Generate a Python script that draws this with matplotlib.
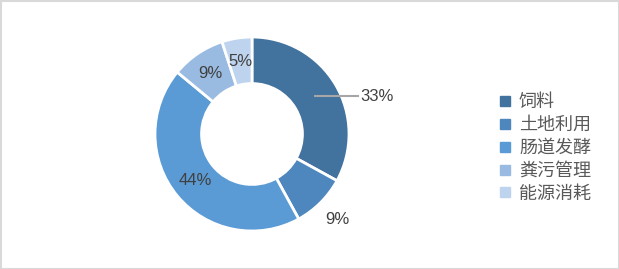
import matplotlib.pyplot as plt
import numpy as np
from matplotlib.patches import Rectangle
from matplotlib.lines import Line2D

plt.rcParams['font.family'] = ['Noto Sans CJK SC', 'DejaVu Sans']

# data
categories = ['饲料', '土地利用', '肠道发酵', '粪污管理', '能源消耗']
values = [33, 9, 44, 9, 5]
colors = ['#42729E', '#4D87BE', '#5B9BD5', '#9ABBE1', '#BED4EE']

fig = plt.figure(figsize=(6.19, 2.69), dpi=100)
# pie centre ~ (252, 134) px, outer radius ~97 px
ax = fig.add_axes([(252 - 97) / 619, (269 - 134 - 97) / 269, 194 / 619, 194 / 269])

wedges, _ = ax.pie(values, colors=colors, startangle=90, counterclock=False,
                   radius=1.0, wedgeprops=dict(width=0.48, edgecolor='white', linewidth=2))
ax.set_xlim(-1, 1)
ax.set_ylim(-1, 1)
ax.set_aspect('equal')
ax.axis('off')

pct_font = dict(family=['Liberation Sans', 'DejaVu Sans'], fontsize=12, color='#404040')
mid_r = 0.76
for i, (w, v) in enumerate(zip(wedges, values)):
    ang = np.deg2rad((w.theta1 + w.theta2) / 2)
    x, y = mid_r * np.cos(ang), mid_r * np.sin(ang)
    txt = f'{v}%'
    if i == 0:
        # moved label with leader line
        ax.plot([x, 1.09], [y, y], color='#A6A6A6', lw=1.5, clip_on=False)
        ax.text(1.12, y, txt, ha='left', va='center', **pct_font)
    elif i == 1:
        ax.text(1.25 * np.cos(ang), 1.25 * np.sin(ang), txt, ha='center', va='center', **pct_font)
    else:
        ax.text(x, y, txt, ha='center', va='center', **pct_font)

handles = [Line2D([], [], marker='s', linestyle='none', markersize=6.5,
                  markerfacecolor=c, markeredgecolor=c) for c in colors]
fig.legend(handles, categories, loc='center left', bbox_to_anchor=(491 / 619, 1 - 148 / 269),
           frameon=False, fontsize=13, labelcolor='#595959', handlelength=0.8,
           handletextpad=0.35, labelspacing=0.27, borderaxespad=0)

fig.add_artist(Rectangle((0.5 / 619, 0.5 / 269), 1 - 1 / 619, 1 - 1 / 269, transform=fig.transFigure,
                         fill=False, edgecolor='#D9D9D9', linewidth=1.5))

fig.savefig('out.png', dpi=100)
